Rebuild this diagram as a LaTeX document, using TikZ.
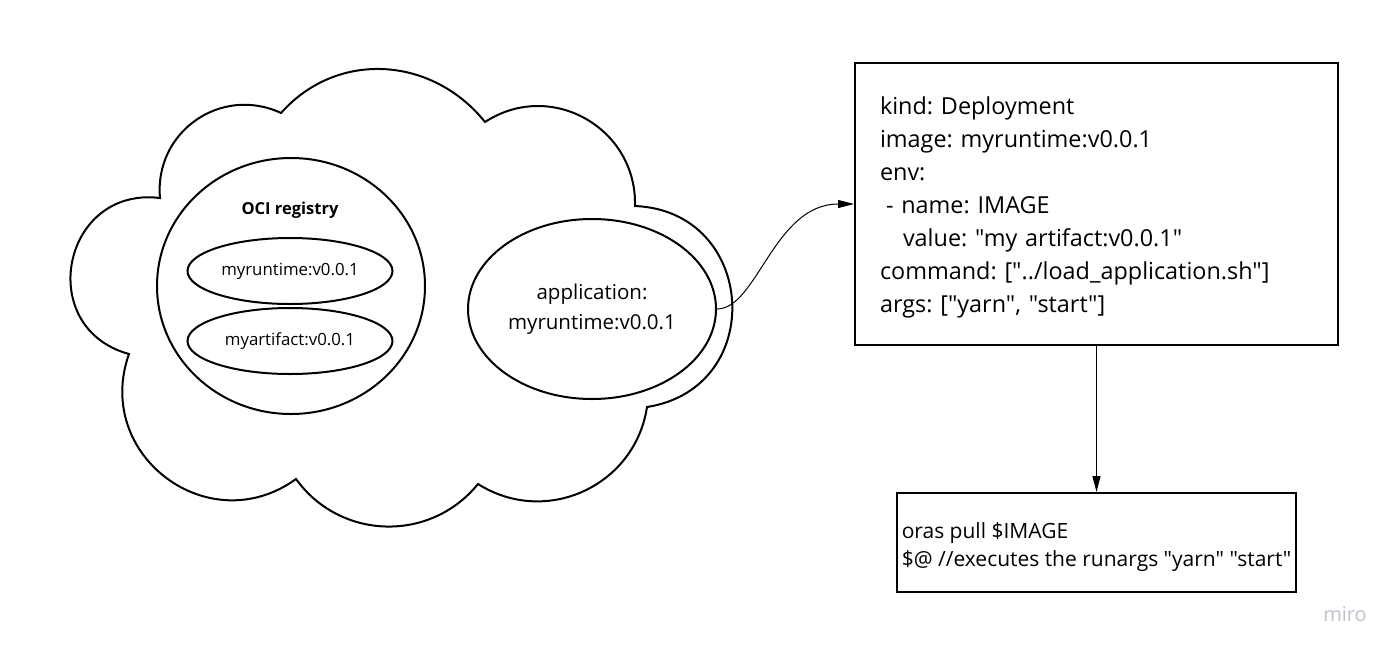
\documentclass[tikz,border=0pt]{standalone}
\usepackage{fontspec}
\setmainfont{Open Sans}[Ligatures=TeXOff]
\usetikzlibrary{arrows.meta,shapes.geometric}
\definecolor{mirogray}{RGB}{192,192,204}
\frenchspacing

\begin{document}
\begin{tikzpicture}[x=1pt,y=-1pt,line width=2pt,
  bubble/.style={draw,ellipse,inner sep=0pt},
  box/.style={draw,rectangle,inner sep=0pt},
  link/.style={line width=1pt,-{Triangle[length=16pt,width=8pt]}}]
\path[use as bounding box] (0,0) rectangle (1400,654);
\draw (160,198) .. controls (154,132) and (221,85) .. (281,113)
  .. controls (337,50) and (432,56) .. (485,122)
  .. controls (551,79) and (637,128) .. (635,206)
  .. controls (757,211) and (768,388) .. (647,407)
  .. controls (635,486) and (546,527) .. (478,484)
  .. controls (430,543) and (340,540) .. (296,479)
  .. controls (209,542) and (93,455) .. (129,354)
  .. controls (34,328) and (62,186) .. (160,198) -- cycle;
\node[bubble,minimum width=268,minimum height=256] (registry) at (291,286) {};
\node[font=\bfseries\fontsize{16.5}{20}\selectfont] (registrytitle) at (290,210) {OCI registry};
\node[bubble,minimum width=205,minimum height=66,font=\fontsize{16.8}{20}\selectfont] (runtime) at (290,271) {myruntime:v0.0.1};
\node[bubble,minimum width=205,minimum height=66,font=\fontsize{16.8}{20}\selectfont] (artifact) at (290,341) {myartifact:v0.0.1};
\node[bubble,minimum width=248,minimum height=180,align=center,font=\fontsize{20.5}{30}\selectfont] (app) at (592,309) {application:\\myruntime:v0.0.1};
\node[box,minimum height=282,text width=433,inner xsep=25,align=left,font=\fontsize{23.4}{33}\selectfont] (deploy) at (1096.5,204) {\rule{0pt}{24pt}kind: Deployment\\image: myruntime:v0.0.1\\env:\\\hspace*{6pt}- name: IMAGE\\\hspace*{23pt}value: "my artifact:v0.0.1"\\command: ["../load\_application.sh"]\\args: ["yarn", "start"]};
\node[box,minimum width=399,minimum height=99,align=left,font=\fontsize{21}{28}\selectfont] (pull) at (1096.5,542.5) {\rule{0pt}{26pt}oras pull \$IMAGE\\\$@ //executes the runargs "yarn" "start"};
\draw[link] (app.east) .. controls +(40,0) and +(-80,0) .. (deploy.west);
\draw[link] (deploy.south) -- (pull.north);
\node[anchor=base,text=mirogray,font=\fontsize{20}{24}\selectfont] (logo) at (1345,621) {miro};
\end{tikzpicture}
\end{document}
